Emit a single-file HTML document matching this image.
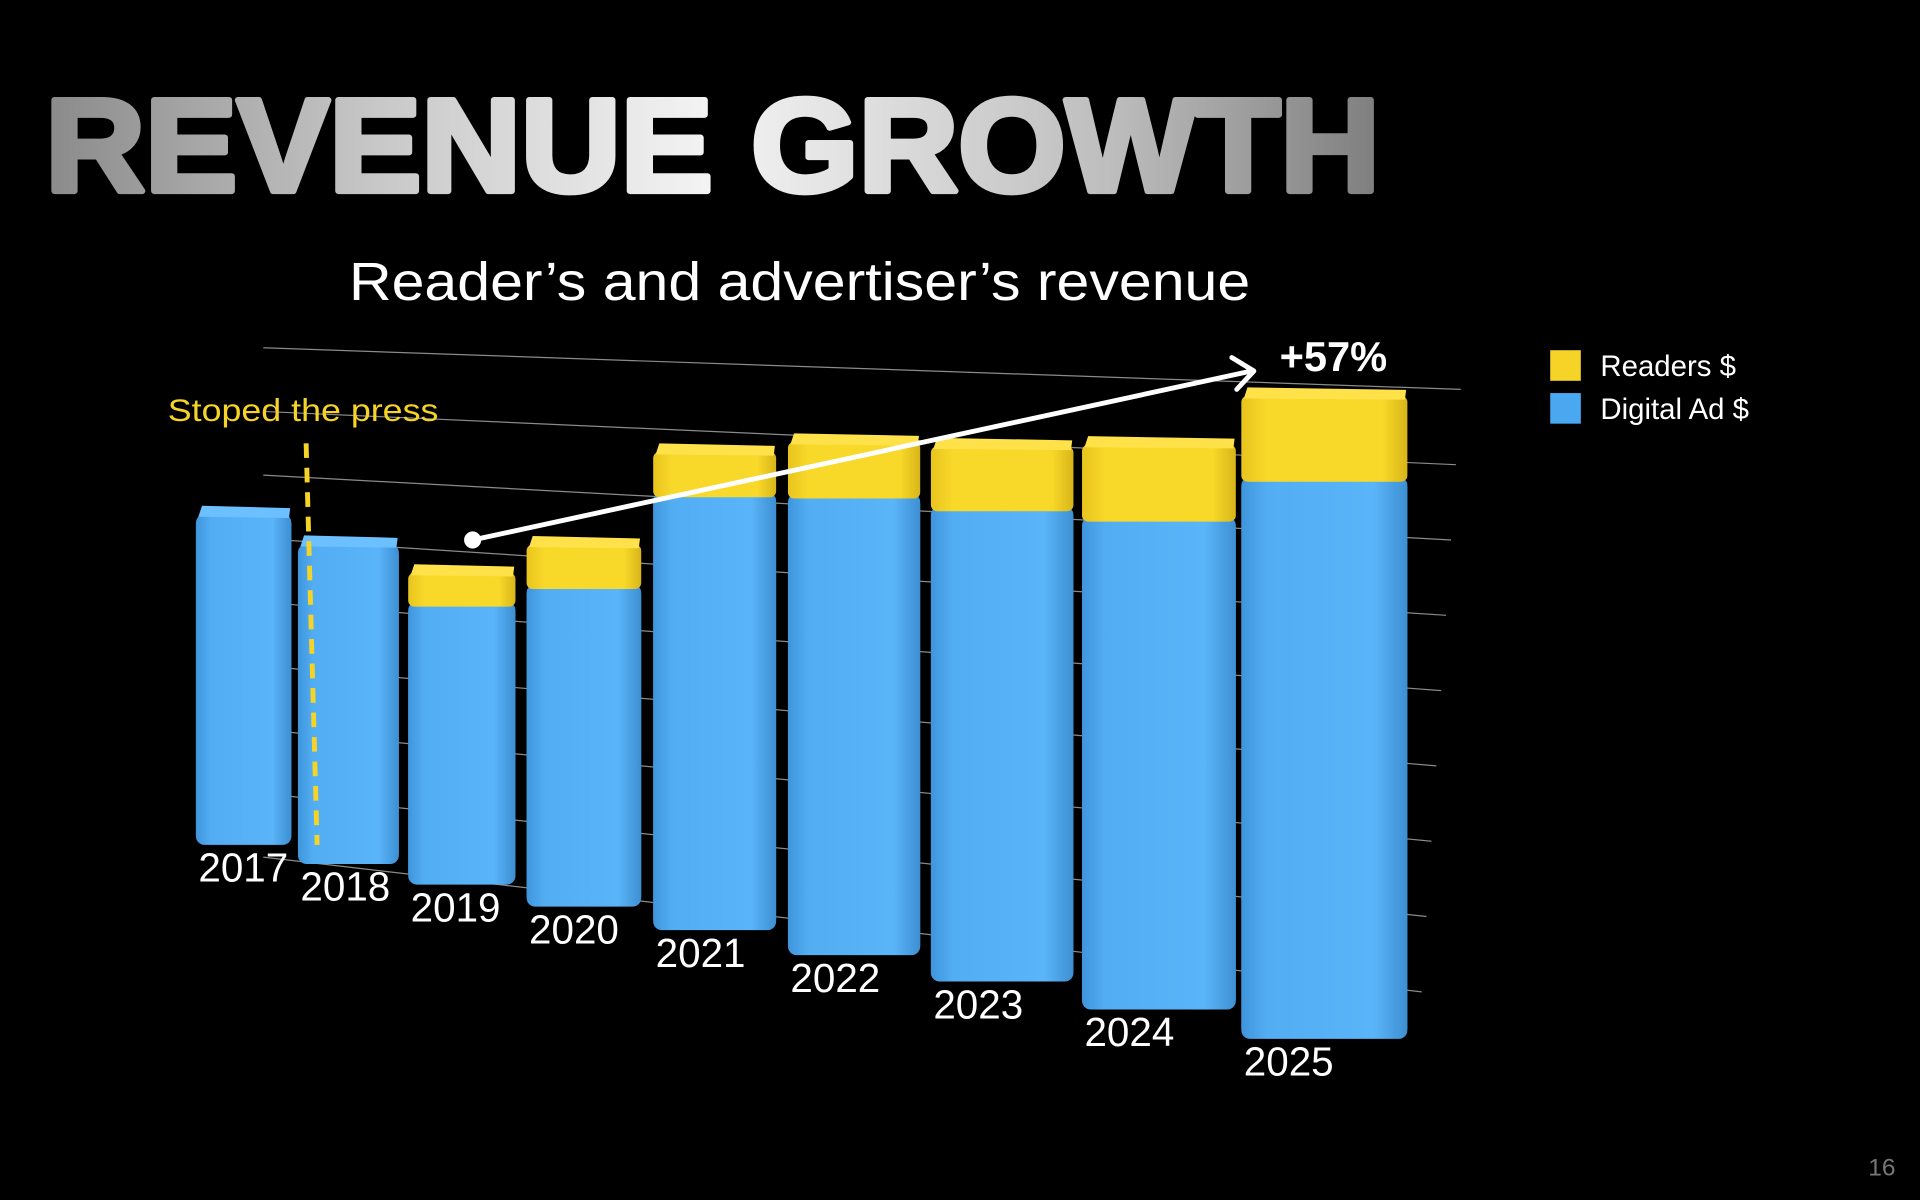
<!DOCTYPE html>
<html>
<head>
<meta charset="utf-8">
<style>
html,body{margin:0;padding:0;background:#000;}
svg{display:block;}
</style>
</head>
<body>
<svg id="chart" width="1920" height="1200" viewBox="0 0 1568 980" xmlns="http://www.w3.org/2000/svg">
<defs>
<linearGradient id="titleGrad" x1="0" y1="0" x2="1" y2="0">
<stop offset="0" stop-color="#8a8a8a"/>
<stop offset="0.25" stop-color="#c8c8c8"/>
<stop offset="0.5" stop-color="#f4f4f4"/>
<stop offset="0.8" stop-color="#bdbdbd"/>
<stop offset="1" stop-color="#7e7e7e"/>
</linearGradient>
<linearGradient id="blueGrad" x1="0" y1="0" x2="1" y2="0">
<stop offset="0" stop-color="#3f95db"/>
<stop offset="0.15" stop-color="#52adf3"/>
<stop offset="0.8" stop-color="#5ab4f8"/>
<stop offset="1" stop-color="#3d8fd2"/>
</linearGradient>
<linearGradient id="yellowGrad" x1="0" y1="0" x2="1" y2="0">
<stop offset="0" stop-color="#e8c41e"/>
<stop offset="0.15" stop-color="#f8d829"/>
<stop offset="0.85" stop-color="#f8d829"/>
<stop offset="1" stop-color="#d8b519"/>
</linearGradient>
</defs>
<text x="37" y="156" font-family="Liberation Sans, sans-serif" font-weight="bold" font-size="108" fill="url(#titleGrad)" stroke="url(#titleGrad)" stroke-width="5" stroke-linejoin="round" textLength="1090" lengthAdjust="spacingAndGlyphs">REVENUE GROWTH</text>
<text x="653" y="245" text-anchor="middle" font-family="Liberation Sans, sans-serif" font-size="44" fill="#fff" textLength="736" lengthAdjust="spacingAndGlyphs">Reader’s and advertiser’s revenue</text>
<g id="grid"></g>
<g id="bars"></g>
<g id="labels"></g>
<text x="137" y="344" font-family="Liberation Sans, sans-serif" font-size="26" fill="#f5d327" textLength="221" lengthAdjust="spacingAndGlyphs">Stoped the press</text>
<line x1="250" y1="362" x2="259" y2="690" stroke="#f5d327" stroke-width="4" stroke-dasharray="12 8"/>
<g>
<circle cx="386" cy="441" r="7" fill="#fff"/>
<line x1="386" y1="441" x2="1022" y2="303" stroke="#fff" stroke-width="4"/>
<polyline points="1006,292 1024,303 1010,318" fill="none" stroke="#fff" stroke-width="4" stroke-linecap="round" stroke-linejoin="round"/>
</g>
<text x="1045" y="303" font-family="Liberation Sans, sans-serif" font-weight="bold" font-size="34" fill="#fff">+57%</text>
<g>
<rect x="1266" y="286" width="25" height="25" fill="#f5d327"/>
<text x="1307" y="307" font-family="Liberation Sans, sans-serif" font-size="24" fill="#fff">Readers $</text>
<rect x="1266" y="321" width="25" height="25" fill="#4aa8f0"/>
<text x="1307" y="342" font-family="Liberation Sans, sans-serif" font-size="24" fill="#fff">Digital Ad $</text>
</g>
<text x="1548" y="960" text-anchor="end" font-family="Liberation Sans, sans-serif" font-size="20" fill="#777">16</text>
</svg>
<script>
const years = ['2017','2018','2019','2020','2021','2022','2023','2024','2025'];
const digitalValues = [5.4, 5.1, 4.4, 4.9, 6.5, 6.7, 6.75, 6.85, 7.65];
const readersValues = [0, 0, 0.45, 0.6, 0.6, 0.75, 0.85, 1.0, 1.1];
const gridCount = 9;

const NS = 'http://www.w3.org/2000/svg';
function el(tag, attrs, parent){
  const e = document.createElementNS(NS, tag);
  for (const k in attrs) e.setAttribute(k, attrs[k]);
  parent.appendChild(e);
  return e;
}
// perspective axis functions
function xPos(i){ return 160 + 80*i + 3.34*i*i; }
function barW(i){ return 78 + 4*i + 0.4*i*i; }
function baseY(i){ return 690 + 15*i + 0.6*i*i; }
function scaleY(i){ return 50 + 1.25*i; }
function valY(i, v){ return baseY(i) - v*scaleY(i); }

const grid = document.getElementById('grid');
for (let k=0;k<gridCount;k++){
  const ln = el('line', {x1:215, y1:284+52*k, x2:1193-4*k, y2:318+61.5*k, stroke:'#8a8a8a', 'stroke-width':1}, grid);
  
  
}

const bars = document.getElementById('bars');
const labels = document.getElementById('labels');
years.forEach((yr, i) => {
  const x = xPos(i), w = barW(i), b = baseY(i);
  const dTop = valY(i, digitalValues[i]);
  const rTop = valY(i, digitalValues[i] + readersValues[i]);
  const g = el('g', {}, bars);
  
  
  const dig = el('rect', {x:x, y:dTop, width:w, height:b-dTop, rx:7, fill:'url(#blueGrad)'}, g);
  
  
  el('rect', {x:x, y:dTop+8, width:w, height:b-dTop-16, fill:'url(#blueGrad)'}, g);
  let topFill = '#6cc0ff';
  if (readersValues[i] > 0){
    const rd = el('rect', {x:x, y:rTop, width:w, height:dTop-rTop+4, rx:5, fill:'url(#yellowGrad)'}, g);
    
    
    topFill = '#ffe24a';
  }
  const d = 7;
  const cap = el('path', {d:`M${x+2},${rTop+2} L${x+5},${rTop-d} L${x+w-1},${rTop-d+2} L${x+w-2},${rTop+3} Z`, fill:topFill}, g);
  
  
  const t = el('text', {x:x+2, y:b+30, 'font-family':'Liberation Sans, sans-serif', 'font-size':33, fill:'#fff'}, labels);
  
  
  t.textContent = yr;
});
</script>
</body>
</html>
